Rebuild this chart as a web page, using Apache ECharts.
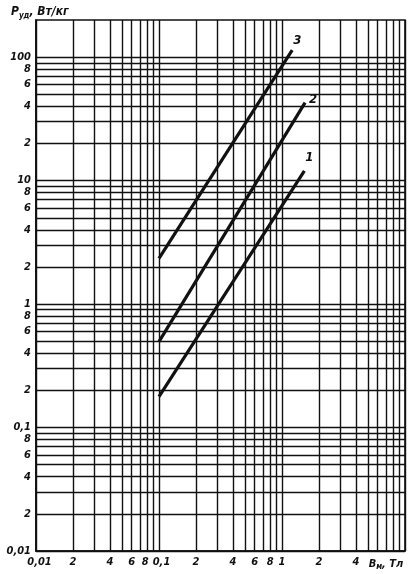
<!DOCTYPE html>
<html>
<head>
<meta charset="utf-8">
<script src="https://cdn.jsdelivr.net/npm/echarts@6/dist/echarts.min.js"></script>
<style>
html,body{margin:0;padding:0;background:#fff;}
#c{width:415px;height:574px;}
</style>
</head>
<body>
<div id="c"></div>
<script>
// ---- data ----
var xGridValues = [0.01,0.02,0.03,0.04,0.05,0.06,0.07,0.08,0.09,
                   0.1,0.2,0.3,0.4,0.5,0.6,0.7,0.8,0.9,
                   1,2,3,4,5,6,7,8,9,10];
var yGridValues = [0.01,0.02,0.03,0.04,0.05,0.06,0.07,0.08,0.09,
                   0.1,0.2,0.3,0.4,0.5,0.6,0.7,0.8,0.9,
                   1,2,3,4,5,6,7,8,9,
                   10,20,30,40,50,60,70,80,90,100];
var xLabelValues = [0.01,0.02,0.04,0.06,0.08,0.1,0.2,0.4,0.6,0.8,1,2,4,7];
var xLabelTexts  = ['0,01','2','4','6','8','0,1','2','4','6','8','1','2','4','B|м|, Тл'];
var yLabelValues = [0.01,0.02,0.04,0.06,0.08,0.1,0.2,0.4,0.6,0.8,1,2,4,6,8,10,20,40,60,80,100];
var yLabelTexts  = ['0,01','2','4','6','8','0,1','2','4','6','8','1','2','4','6','8','10','2','4','6','8','100'];

var curve1B = [0.1, 1.52];
var curve1P = [0.178, 12.0];
var curve2B = [0.1, 1.54];
var curve2P = [0.497, 42.8];
var curve3B = [0.1, 1.21];
var curve3P = [2.35, 114];
var curveNames = ['1','2','3'];

function pairs(xs, ys){ return xs.map(function(x,i){return [x, ys[i]];}); }
function findText(vals, texts, v){
  for (var i=0;i<vals.length;i++){ if (Math.abs(Math.log10(vals[i]) - Math.log10(v)) < 1e-6) return texts[i]; }
  return '';
}

var FONT = '"Liberation Sans Narrow","DejaVu Sans Condensed","Liberation Sans",sans-serif';
var INK = '#111';
var baseTxt = {fontFamily:FONT, fontStyle:'italic', fontWeight:'bold', fontSize:11, color:INK};
function ext(o, p){ var r={}; for (var k in o) r[k]=o[k]; for (var k2 in p) r[k2]=p[k2]; return r; }

function xFormatter(v){
  var t = findText(xLabelValues, xLabelTexts, v);
  if (t.indexOf('|') >= 0){
    var parts = t.split('|');
    return '{n|' + parts[0] + '}{s|' + parts[1] + '}{n|' + parts[2] + '}';
  }
  if (v < 0.0105) return '{first|' + t + '}';
  if (Math.abs(v - 0.1) < 1e-9) return '{dec|' + t + '}';
  if (Math.abs(v - 0.08) < 1e-9) return '{pre|' + t + '}';
  return '{n|' + t + '}';
}
function yFormatter(v){ return findText(yLabelValues, yLabelTexts, v); }

var chart = echarts.init(document.getElementById('c'), null, {renderer:'canvas'});

function curveSeries(name, xs, ys, off, dist){
  return {
    type:'line', name:name, data: pairs(xs, ys), showSymbol:false, symbol:'none',
    lineStyle:{color:INK, width:3.2}, silent:true, animation:false,
    endLabel:{show:true, formatter:name, color:INK, fontFamily:FONT, fontStyle:'italic',
      fontWeight:'bold', fontSize:13, distance:dist, offset:off}
  };
}

chart.setOption({
  animation:false,
  backgroundColor:'#fff',
  grid:{left:36, right:10, top:20, bottom:23, containLabel:false, outerBoundsMode:'none',
    show:true, borderColor:INK, borderWidth:1.6, backgroundColor:'transparent'},
  xAxis:{
    type:'log', logBase:10, min:0.01, max:10,
    axisLine:{show:true, lineStyle:{color:INK, width:1.6}},
    axisTick:{show:false, customValues:xGridValues},
    splitLine:{show:true, lineStyle:{color:INK, width:1.4}},
    minorSplitLine:{show:false},
    axisLabel:{customValues:xLabelValues, formatter:xFormatter,
      color:INK, fontFamily:FONT, fontStyle:'italic', fontWeight:'bold', fontSize:11, margin:6,
      rich:{
        n: baseTxt,
        first: ext(baseTxt, {padding:[0,0,0,7]}),
        dec: ext(baseTxt, {padding:[0,0,0,5]}),
        pre: ext(baseTxt, {padding:[0,4,0,0]}),
        s: ext(baseTxt, {fontSize:8, padding:[6,0,0,0]})
      }}
  },
  yAxis:{
    type:'log', logBase:10, min:0.01, max:200,
    axisLine:{show:true, lineStyle:{color:INK, width:1.6}},
    axisTick:{show:false, customValues:yGridValues},
    splitLine:{show:true, lineStyle:{color:INK, width:1.4}},
    minorSplitLine:{show:false},
    axisLabel:{customValues:yLabelValues, formatter:yFormatter,
      color:INK, fontFamily:FONT, fontStyle:'italic', fontWeight:'bold', fontSize:11, margin:5}
  },
  graphic:[{
    type:'text', left:11, top:6,
    style:{text:'{b|P}{s|уд}{b|, Вт/кг}', fill:INK,
      rich:{b:{fontFamily:FONT, fontStyle:'italic', fontWeight:'bold', fontSize:12, fill:INK, color:INK},
            s:{fontFamily:FONT, fontStyle:'italic', fontWeight:'bold', fontSize:8, fill:INK, color:INK, padding:[7,0,0,0]}}}
  }],
  series:[
    curveSeries(curveNames[0], curve1B, curve1P, [0,-13], 1),
    curveSeries(curveNames[1], curve2B, curve2P, [0,-3], 4),
    curveSeries(curveNames[2], curve3B, curve3P, [0,-10], 1)
  ]
});
</script>
</body>
</html>
